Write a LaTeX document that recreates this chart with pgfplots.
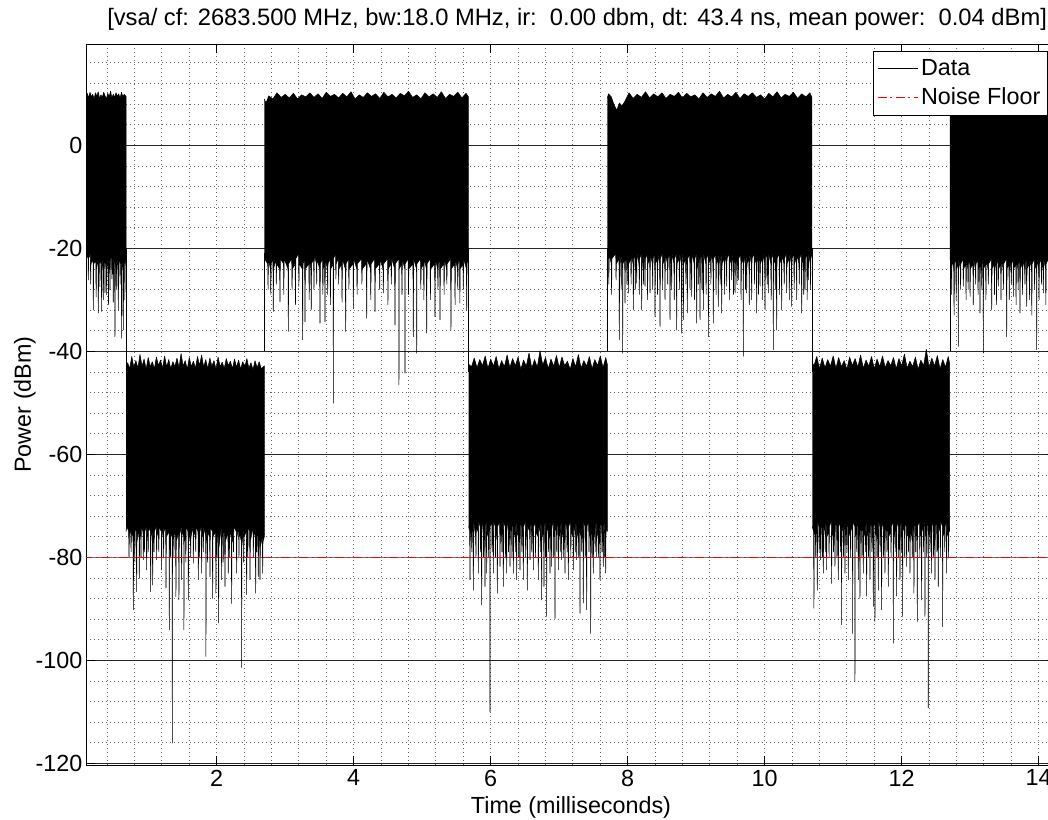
\documentclass[border=0pt]{standalone}
\usepackage{fontspec}
\setmainfont{Liberation Sans}
\usepackage{pgfplots}
\pgfplotsset{compat=1.18}
\definecolor{nfred}{RGB}{255,0,0}
\newcommand{\fs}{\fontsize{17.5}{21}\selectfont}
\begin{document}
\begin{tikzpicture}
\path[use as bounding box] (0pt,0pt) rectangle (786pt,614.25pt);
\begin{axis}[
  at={(64.5pt,40.5pt)}, anchor=south west,
  scale only axis, width=727.5pt, height=540.75pt,
  xmin=0.092, xmax=14.253, ymin=-120.33, ymax=19.67,
  axis on top=false,
  xtick={0,2,...,16}, ytick={-120,-100,-60,-40,-20,0,20},
  extra y ticks={-80}, extra y tick style={grid=none},
  minor xtick={0.4,0.8,...,14.4},
  minor ytick={-116,-112,-108,-104,-96,-92,-88,-84,-76,-72,-68,-64,-56,-52,-48,-44,-36,-32,-28,-24,-16,-12,-8,-4,4,8,12,16},
  xmajorgrids=false, xminorgrids, yminorgrids, ymajorgrids,
  major grid style={solid, black!85, line width=0.6pt},
  minor grid style={black!60, line width=0.6pt, dash pattern=on 0.75pt off 2.25pt},
  major tick length=7pt, minor tick length=0pt,
  tick align=inside,
  every tick/.append style={black, line width=0.6pt},
  axis line style={black, line width=0.6pt},
  /pgf/number format/assume math mode=true,
  tick label style={font=\fs},
  yticklabel style={inner xsep=2.5pt},
  xlabel={Time (milliseconds)}, ylabel={Power (dBm)},
  every axis x label/.style={at={(axis description cs:0.5,-0.0666)}, anchor=base, font=\fs},
  every axis y label/.style={at={(axis description cs:-0.0567,0.5)}, rotate=90, anchor=base, font=\fs},
  legend style={at={(0.811,0.9907)}, anchor=north west, line width=0.5pt, fill=white, font=\fs, legend cell align=left, row sep=3.5pt, inner xsep=3pt, inner ysep=4.5pt},
  legend image code/.code={\draw[#1] (0pt,0pt) -- (30pt,0pt);},
  clip=true,
]
% gray solid line and red noise floor, drawn first as separate plots
\addplot[draw=black!55, line width=0.8pt, mark=none, forget plot] coordinates {(0.05,-80) (14.4,-80)};
% High burst 1
\addplot[fill=black, draw=black, line width=0.4pt, line join=bevel, forget plot] coordinates {
(0.09,-22) (0.121,-21.5) (0.126,-26.2) (0.131,-22) (0.155,-21) (0.16,-27) (0.165,-23) (0.194,-22) (0.199,-32.0) (0.204,-23) (0.235,-22.5) (0.24,-29.5) (0.245,-24) (0.267,-22) (0.272,-32.6) (0.277,-23) (0.29,-21) (0.295,-27.5) (0.3,-22) (0.315,-23) (0.32,-32.3) (0.325,-24) (0.34,-22) (0.345,-30) (0.35,-23) (0.364,-21) (0.369,-28.7) (0.374,-22) (0.388,-23) (0.393,-29.1) (0.398,-24) (0.415,-21.5) (0.42,-31) (0.425,-22) (0.437,-23) (0.442,-28.1) (0.447,-22.5) (0.465,-21) (0.47,-26) (0.475,-22) (0.485,-23) (0.49,-30.5) (0.495,-22) (0.51,-23) (0.515,-37.2) (0.52,-24) (0.535,-22) (0.54,-28) (0.545,-23.5) (0.559,-22) (0.564,-32.0) (0.569,-23) (0.585,-21.5) (0.59,-27) (0.595,-22) (0.607,-23) (0.612,-37.5) (0.617,-24) (0.632,-22.5) (0.637,-35.9) (0.642,-23) (0.655,-22) (0.66,-30) (0.665,-23) (0.676,-22)
(0.676,9.5) (0.65,9.9) (0.63,9.4) (0.61,10.3) (0.59,9.1) (0.57,10.0) (0.55,9.5) (0.53,10.2) (0.51,9.3) (0.49,9.9) (0.47,9.2) (0.45,10.5) (0.43,9.4) (0.41,10.1) (0.39,9.0) (0.37,9.6) (0.35,10.3) (0.33,9.3) (0.31,9.8) (0.29,9.1) (0.27,10.4) (0.25,9.5) (0.23,10.2) (0.21,9.0) (0.19,9.9) (0.17,9.4) (0.15,10.3) (0.13,9.2) (0.11,10.1) (0.09,9.6)
};
% Low burst 1
\addplot[fill=black, draw=black, line width=0.4pt, line join=bevel, forget plot] coordinates {
(0.676,-75) (0.69,-74) (0.715,-75) (0.72,-80) (0.725,-76) (0.745,-74) (0.75,-79) (0.755,-75) (0.778,-76) (0.783,-90.2) (0.788,-77) (0.80,-75) (0.805,-81) (0.81,-74) (0.826,-75) (0.831,-86.7) (0.836,-77) (0.865,-74) (0.870,-84.1) (0.875,-76) (0.89,-75) (0.895,-80) (0.9,-74) (0.924,-75) (0.929,-80.5) (0.934,-76) (0.94,-74) (0.945,-79) (0.95,-75) (0.972,-74) (0.977,-82.5) (0.982,-76) (0.995,-75) (1.0,-79) (1.005,-74) (1.031,-75) (1.036,-86.7) (1.041,-76) (1.06,-75) (1.065,-85.4) (1.07,-77) (1.08,-74) (1.085,-79) (1.09,-75) (1.118,-74) (1.123,-80.5) (1.128,-75) (1.15,-76) (1.155,-79) (1.16,-74) (1.191,-75) (1.196,-82.5) (1.201,-76) (1.22,-74) (1.225,-80) (1.23,-75) (1.255,-74) (1.260,-86.0) (1.265,-76) (1.305,-75) (1.308,-94.1) (1.311,-77) (1.32,-76) (1.325,-80) (1.33,-75) (1.349,-76) (1.352,-116.1) (1.355,-77) (1.37,-74) (1.375,-80) (1.38,-75) (1.40,-76) (1.405,-87.7) (1.41,-77) (1.444,-75) (1.449,-88.3) (1.454,-76) (1.483,-74) (1.488,-84.4) (1.493,-75) (1.519,-76) (1.522,-94.1) (1.525,-77) (1.545,-76) (1.55,-81) (1.555,-74) (1.581,-75) (1.586,-88.3) (1.591,-77) (1.615,-75) (1.62,-80) (1.625,-76) (1.654,-74) (1.659,-81.2) (1.664,-75) (1.69,-76) (1.695,-79) (1.70,-74) (1.727,-75) (1.732,-84.4) (1.737,-77) (1.745,-74) (1.75,-80) (1.755,-75) (1.775,-74) (1.780,-83.1) (1.785,-76) (1.80,-75) (1.805,-79) (1.81,-74) (1.840,-76) (1.843,-99.3) (1.846,-77) (1.86,-74) (1.865,-81) (1.87,-75) (1.897,-76) (1.902,-83.8) (1.907,-74) (1.936,-75) (1.941,-88.0) (1.946,-76) (1.984,-75) (1.989,-87.0) (1.994,-77) (2.0,-74) (2.005,-80) (2.01,-75) (2.023,-76) (2.028,-92.8) (2.033,-78) (2.067,-74) (2.072,-84.4) (2.077,-76) (2.09,-75) (2.095,-81) (2.10,-74) (2.116,-76) (2.121,-85.7) (2.126,-77) (2.164,-75) (2.169,-83.1) (2.174,-76) (2.18,-74) (2.185,-80) (2.19,-75) (2.213,-76) (2.218,-89.0) (2.223,-77) (2.24,-76) (2.245,-79) (2.25,-74) (2.286,-75) (2.291,-83.1) (2.296,-76) (2.32,-74) (2.325,-80) (2.33,-75) (2.361,-77) (2.364,-101.4) (2.367,-78) (2.39,-74) (2.395,-81) (2.40,-76) (2.432,-75) (2.437,-87.3) (2.442,-77) (2.45,-76) (2.455,-80) (2.46,-74) (2.481,-75) (2.486,-84.4) (2.491,-77) (2.53,-74) (2.535,-80) (2.54,-75) (2.564,-76) (2.569,-87.0) (2.574,-77) (2.58,-75) (2.585,-79) (2.590,-74) (2.602,-76) (2.607,-83.8) (2.612,-77) (2.627,-75) (2.632,-84.4) (2.637,-78) (2.666,-76) (2.671,-83.1) (2.676,-77) (2.695,-76)
(2.695,-42.8) (2.65,-43.4) (2.62,-42.0) (2.59,-43.2) (2.56,-41.8) (2.53,-43.6) (2.50,-42.2) (2.47,-43.3) (2.44,-41.4) (2.41,-43.0) (2.38,-42.0) (2.35,-43.5) (2.32,-41.7) (2.29,-43.1) (2.26,-41.5) (2.23,-43.4) (2.20,-41.9) (2.17,-42.8) (2.14,-41.4) (2.11,-43.3) (2.08,-42.1) (2.05,-43.0) (2.02,-41.1) (1.99,-43.5) (1.96,-41.8) (1.93,-42.9) (1.90,-41.3) (1.87,-43.4) (1.84,-41.6) (1.81,-43.1) (1.78,-40.7) (1.75,-42.8) (1.72,-41.0) (1.69,-43.3) (1.66,-41.9) (1.63,-43.0) (1.60,-41.2) (1.57,-43.5) (1.54,-41.8) (1.51,-42.9) (1.48,-40.4) (1.45,-43.2) (1.42,-41.3) (1.39,-43.0) (1.36,-42.0) (1.33,-43.4) (1.30,-41.6) (1.27,-43.1) (1.24,-40.9) (1.21,-43.3) (1.18,-41.7) (1.15,-42.8) (1.12,-41.1) (1.09,-43.4) (1.06,-42.0) (1.03,-43.0) (1.00,-41.2) (0.97,-43.5) (0.94,-41.5) (0.91,-42.9) (0.88,-40.6) (0.85,-43.3) (0.82,-41.8) (0.79,-43.1) (0.76,-41.0) (0.73,-43.4) (0.70,-42.2) (0.676,-43)
};
% High burst 2
\addplot[fill=black, draw=black, line width=0.4pt, line join=bevel, forget plot] coordinates {
(2.695,-22) (2.745,-23) (2.75,-28) (2.755,-22) (2.785,-24) (2.79,-29) (2.795,-23) (2.821,-22) (2.826,-32.3) (2.831,-24) (2.865,-22) (2.87,-27) (2.875,-23) (2.919,-24) (2.924,-30.4) (2.929,-22) (2.975,-23) (2.98,-29) (2.985,-22) (3.041,-24) (3.046,-36.2) (3.051,-23) (3.095,-22) (3.1,-28) (3.105,-24) (3.145,-23) (3.15,-31) (3.155,-22) (3.195,-21) (3.2,-27.5) (3.205,-23) (3.25,-24) (3.255,-37.8) (3.26,-23) (3.284,-22) (3.289,-34.3) (3.294,-24) (3.345,-23) (3.35,-30) (3.355,-22) (3.375,-24) (3.38,-32) (3.385,-23) (3.415,-22) (3.42,-28) (3.425,-21) (3.455,-23) (3.46,-27) (3.465,-22) (3.503,-24) (3.508,-34.6) (3.513,-23) (3.545,-22) (3.55,-29) (3.555,-24) (3.576,-23) (3.581,-34.3) (3.586,-22) (3.615,-24) (3.62,-29) (3.625,-23) (3.655,-22) (3.66,-31) (3.665,-24) (3.70,-23) (3.703,-50.1) (3.706,-22) (3.735,-21) (3.74,-26) (3.745,-23) (3.775,-22) (3.78,-27) (3.785,-24) (3.825,-23) (3.83,-30.5) (3.835,-22) (3.878,-24) (3.883,-36.2) (3.888,-23) (3.925,-22) (3.93,-28) (3.935,-24) (3.99,-23) (3.995,-31.7) (4.0,-22) (4.045,-24) (4.05,-29) (4.055,-23) (4.115,-22) (4.12,-27) (4.125,-24) (4.185,-23) (4.19,-33.6) (4.195,-22) (4.245,-24) (4.25,-30) (4.255,-23) (4.306,-22) (4.311,-32.3) (4.316,-24) (4.375,-23) (4.38,-28) (4.385,-22) (4.428,-24) (4.433,-28.7) (4.438,-23) (4.495,-22) (4.5,-31) (4.505,-24) (4.545,-23) (4.55,-27) (4.555,-22) (4.598,-24) (4.603,-34.9) (4.608,-23) (4.658,-22) (4.661,-46.5) (4.664,-24) (4.70,-23) (4.705,-29) (4.71,-22) (4.746,-24) (4.749,-44.3) (4.752,-23) (4.795,-22) (4.8,-29) (4.805,-24) (4.865,-23) (4.87,-37.2) (4.875,-22) (4.917,-24) (4.92,-40.4) (4.923,-23) (4.975,-22) (4.98,-28) (4.985,-24) (5.02,-23) (5.025,-30) (5.03,-22) (5.061,-24) (5.066,-36.5) (5.071,-23) (5.115,-22) (5.12,-30) (5.125,-24) (5.182,-23) (5.187,-33.3) (5.192,-22) (5.225,-24) (5.23,-28) (5.235,-23) (5.255,-22) (5.26,-33.9) (5.265,-24) (5.315,-23) (5.32,-29) (5.325,-22) (5.355,-24) (5.36,-27) (5.365,-23) (5.415,-22) (5.42,-35.9) (5.425,-24) (5.475,-23) (5.48,-31) (5.485,-22) (5.515,-24) (5.52,-28) (5.525,-23) (5.545,-22) (5.55,-30.7) (5.555,-24) (5.595,-23) (5.6,-28) (5.605,-22) (5.645,-24) (5.65,-32.0) (5.655,-23) (5.675,-22)
(5.675,9.4) (5.64,10.1) (5.58,9.2) (5.52,10.3) (5.46,9.5) (5.40,9.9) (5.34,9.1) (5.28,10.4) (5.22,9.3) (5.16,10.0) (5.10,9.4) (5.04,10.2) (4.98,9.0) (4.92,9.8) (4.86,9.3) (4.80,10.5) (4.74,9.6) (4.68,10.1) (4.62,9.2) (4.56,9.9) (4.50,9.4) (4.44,10.3) (4.38,9.1) (4.32,10.0) (4.26,9.5) (4.20,10.2) (4.14,9.3) (4.08,9.8) (4.02,9.0) (3.96,10.4) (3.90,9.4) (3.84,10.1) (3.78,9.2) (3.72,9.9) (3.66,9.5) (3.60,10.3) (3.54,9.1) (3.48,10.0) (3.42,9.3) (3.36,10.2) (3.30,9.4) (3.24,9.8) (3.18,9.0) (3.12,10.1) (3.06,9.2) (3.00,9.9) (2.94,9.3) (2.88,10.2) (2.82,9.0) (2.76,9.6) (2.72,8.2) (2.695,9.0)
};
% Low burst 2
\addplot[fill=black, draw=black, line width=0.4pt, line join=bevel, forget plot] coordinates {
(5.678,-74) (5.693,-75) (5.698,-84.4) (5.703,-73) (5.72,-76) (5.725,-79) (5.73,-74) (5.742,-75) (5.747,-86.4) (5.752,-73) (5.78,-76) (5.785,-80) (5.79,-74) (5.815,-75) (5.82,-83.1) (5.825,-73) (5.845,-74) (5.85,-79) (5.855,-76) (5.863,-75) (5.868,-89.3) (5.873,-74) (5.89,-73) (5.895,-80) (5.9,-75) (5.912,-76) (5.917,-85.7) (5.922,-74) (5.936,-73) (5.941,-83.1) (5.946,-75) (5.965,-76) (5.97,-80) (5.975,-74) (5.987,-75) (5.99,-110.0) (5.993,-74) (6.015,-73) (6.02,-79) (6.025,-76) (6.034,-75) (6.039,-83.1) (6.044,-73) (6.065,-74) (6.07,-80) (6.075,-75) (6.092,-76) (6.097,-87.0) (6.102,-74) (6.131,-73) (6.136,-81.8) (6.141,-75) (6.16,-76) (6.165,-79) (6.17,-74) (6.18,-75) (6.185,-85.7) (6.19,-73) (6.21,-74) (6.215,-80) (6.22,-76) (6.228,-75) (6.233,-83.1) (6.238,-74) (6.255,-73) (6.26,-79) (6.265,-75) (6.277,-76) (6.282,-81.8) (6.287,-74) (6.305,-75) (6.31,-80) (6.315,-73) (6.326,-74) (6.331,-83.1) (6.336,-76) (6.355,-75) (6.36,-79) (6.365,-74) (6.374,-73) (6.379,-84.4) (6.384,-75) (6.405,-76) (6.41,-80) (6.415,-74) (6.423,-75) (6.428,-82.5) (6.433,-73) (6.45,-74) (6.455,-79) (6.46,-76) (6.472,-75) (6.477,-84.4) (6.482,-74) (6.505,-73) (6.51,-80) (6.515,-75) (6.53,-76) (6.535,-86.4) (6.54,-74) (6.569,-75) (6.574,-80.5) (6.579,-73) (6.595,-74) (6.6,-79) (6.605,-76) (6.618,-75) (6.623,-82.5) (6.628,-74) (6.65,-73) (6.655,-80) (6.66,-75) (6.691,-76) (6.696,-84.4) (6.701,-74) (6.72,-75) (6.725,-79) (6.73,-73) (6.739,-74) (6.744,-88.3) (6.749,-76) (6.773,-75) (6.778,-85.7) (6.783,-74) (6.797,-73) (6.8,-80) (6.803,-75) (6.814,-76) (6.817,-91.5) (6.82,-74) (6.84,-75) (6.845,-79) (6.85,-73) (6.861,-74) (6.866,-83.1) (6.871,-76) (6.885,-75) (6.89,-81.8) (6.895,-74) (6.915,-73) (6.92,-80) (6.925,-75) (6.936,-76) (6.939,-91.9) (6.942,-74) (6.96,-75) (6.965,-79) (6.97,-73) (6.983,-74) (6.988,-82.5) (6.993,-76) (7.01,-75) (7.015,-79) (7.02,-74) (7.031,-73) (7.036,-80.5) (7.041,-75) (7.06,-76) (7.065,-80) (7.07,-74) (7.08,-75) (7.085,-83.1) (7.09,-73) (7.11,-74) (7.115,-79) (7.12,-76) (7.129,-75) (7.134,-84.4) (7.139,-74) (7.165,-73) (7.17,-80) (7.175,-75) (7.202,-76) (7.207,-82.5) (7.212,-74) (7.23,-75) (7.235,-79) (7.24,-73) (7.25,-74) (7.255,-80.5) (7.26,-76) (7.28,-75) (7.285,-80) (7.29,-74) (7.301,-73) (7.304,-90.9) (7.307,-75) (7.325,-76) (7.33,-79) (7.335,-74) (7.347,-75) (7.352,-88.9) (7.357,-73) (7.375,-74) (7.38,-80) (7.385,-76) (7.396,-75) (7.401,-90.2) (7.406,-74) (7.43,-73) (7.435,-79) (7.44,-75) (7.457,-76) (7.46,-94.8) (7.463,-74) (7.475,-75) (7.48,-80) (7.485,-73) (7.493,-74) (7.498,-83.1) (7.503,-76) (7.52,-75) (7.525,-79) (7.53,-74) (7.542,-73) (7.547,-79.9) (7.552,-75) (7.57,-76) (7.575,-80) (7.58,-74) (7.591,-75) (7.596,-84.4) (7.601,-73) (7.62,-74) (7.625,-79) (7.63,-76) (7.639,-75) (7.644,-81.8) (7.649,-74) (7.66,-73) (7.665,-80) (7.67,-75) (7.674,-76) (7.679,-83.1) (7.684,-74) (7.703,-75)
(7.703,-42.6) (7.68,-41.2) (7.64,-43.2) (7.60,-40.9) (7.56,-42.8) (7.52,-41.6) (7.48,-43.4) (7.44,-41.0) (7.40,-42.9) (7.36,-41.8) (7.32,-43.3) (7.28,-40.6) (7.24,-43.0) (7.20,-41.4) (7.16,-43.5) (7.12,-41.9) (7.08,-42.8) (7.04,-41.1) (7.00,-43.2) (6.96,-40.8) (6.92,-42.9) (6.88,-41.5) (6.84,-43.4) (6.80,-41.2) (6.76,-42.7) (6.72,-39.9) (6.68,-43.1) (6.64,-41.6) (6.60,-43.3) (6.56,-40.3) (6.52,-42.9) (6.48,-41.7) (6.44,-43.5) (6.40,-41.1) (6.36,-42.8) (6.32,-41.4) (6.28,-43.2) (6.24,-40.7) (6.20,-43.0) (6.16,-41.8) (6.12,-43.4) (6.08,-41.0) (6.04,-42.9) (6.00,-41.5) (5.96,-43.3) (5.92,-40.9) (5.88,-42.8) (5.84,-41.6) (5.80,-43.2) (5.76,-41.3) (5.72,-43.0) (5.678,-42.5)
};
% High burst 3
\addplot[fill=black, draw=black, line width=0.4pt, line join=bevel, forget plot] coordinates {
(7.703,-21) (7.72,-22) (7.725,-27) (7.73,-21) (7.76,-23) (7.765,-29) (7.77,-22) (7.825,-21) (7.83,-26.2) (7.835,-23) (7.873,-22) (7.878,-37.8) (7.883,-21) (7.90,-23) (7.905,-28) (7.91,-22) (7.924,-21) (7.927,-40.4) (7.93,-23) (7.956,-22) (7.961,-30.7) (7.966,-21) (7.985,-23) (7.99,-27) (7.995,-22) (8.005,-21) (8.01,-28.7) (8.015,-23) (8.045,-22) (8.05,-27) (8.055,-21) (8.078,-23) (8.083,-32.0) (8.088,-22) (8.105,-21) (8.11,-28) (8.115,-23) (8.126,-22) (8.131,-26.8) (8.136,-21) (8.165,-23) (8.17,-29) (8.175,-22) (8.199,-21) (8.204,-32.0) (8.209,-23) (8.225,-22) (8.23,-27) (8.235,-21) (8.248,-23) (8.253,-27.4) (8.258,-22) (8.285,-21) (8.29,-30) (8.295,-23) (8.321,-22) (8.326,-28.7) (8.331,-21) (8.36,-23) (8.365,-28) (8.37,-22) (8.394,-21) (8.399,-33.3) (8.404,-23) (8.43,-22) (8.435,-29) (8.44,-21) (8.467,-23) (8.472,-35.2) (8.477,-22) (8.505,-21) (8.51,-28) (8.515,-23) (8.54,-22) (8.545,-30.0) (8.55,-21) (8.58,-23) (8.585,-27) (8.59,-22) (8.613,-21) (8.618,-33.9) (8.623,-23) (8.637,-22) (8.642,-28.1) (8.647,-21) (8.675,-23) (8.68,-30) (8.685,-22) (8.71,-21) (8.715,-35.9) (8.72,-23) (8.75,-22) (8.755,-28) (8.76,-21) (8.783,-23) (8.788,-36.5) (8.793,-22) (8.808,-21) (8.813,-33.9) (8.818,-23) (8.845,-22) (8.85,-27) (8.855,-21) (8.866,-23) (8.871,-32.6) (8.876,-22) (8.905,-21) (8.91,-28) (8.915,-23) (8.929,-22) (8.934,-29.4) (8.939,-21) (8.97,-23) (8.975,-30) (8.98,-22) (9.002,-21) (9.007,-34.6) (9.012,-23) (9.025,-22) (9.03,-27) (9.035,-21) (9.051,-23) (9.056,-33.9) (9.061,-22) (9.08,-21) (9.085,-28) (9.09,-23) (9.1,-22) (9.105,-32.0) (9.11,-21) (9.14,-23) (9.145,-29) (9.15,-22) (9.173,-21) (9.178,-37.2) (9.183,-23) (9.21,-22) (9.215,-27) (9.22,-21) (9.245,-23) (9.25,-34.6) (9.255,-22) (9.285,-21) (9.29,-29) (9.295,-23) (9.318,-22) (9.323,-31.3) (9.328,-21) (9.345,-23) (9.35,-27) (9.355,-22) (9.367,-21) (9.372,-32.6) (9.377,-23) (9.41,-22) (9.415,-29) (9.42,-21) (9.44,-23) (9.445,-27.4) (9.45,-22) (9.48,-21) (9.485,-30) (9.49,-23) (9.513,-22) (9.518,-26.2) (9.523,-21) (9.54,-23) (9.545,-29) (9.55,-22) (9.562,-21) (9.567,-28.7) (9.572,-23) (9.59,-22) (9.595,-27) (9.6,-21) (9.61,-23) (9.615,-26.2) (9.62,-22) (9.65,-21) (9.655,-30) (9.66,-23) (9.685,-22) (9.688,-41.0) (9.691,-21) (9.715,-23) (9.72,-28) (9.725,-22) (9.732,-21) (9.737,-28.7) (9.742,-23) (9.77,-22) (9.775,-31) (9.78,-21) (9.805,-23) (9.81,-30.0) (9.815,-22) (9.845,-21) (9.85,-27) (9.855,-23) (9.878,-22) (9.883,-32.6) (9.888,-21) (9.905,-23) (9.91,-29) (9.915,-22) (9.927,-21) (9.932,-27.4) (9.937,-23) (9.965,-22) (9.97,-30) (9.975,-21) (10.0,-23) (10.005,-32.0) (10.01,-22) (10.03,-21) (10.035,-27) (10.04,-23) (10.048,-22) (10.053,-28.7) (10.058,-21) (10.09,-23) (10.095,-30) (10.1,-22) (10.123,-21) (10.126,-39.7) (10.129,-23) (10.15,-22) (10.155,-28) (10.16,-21) (10.17,-23) (10.175,-35.9) (10.18,-22) (10.21,-21) (10.215,-29) (10.22,-23) (10.243,-22) (10.248,-32.0) (10.253,-21) (10.28,-23) (10.285,-27) (10.29,-22) (10.316,-21) (10.321,-28.7) (10.326,-23) (10.355,-22) (10.36,-30) (10.365,-21) (10.389,-23) (10.394,-31.3) (10.399,-22) (10.425,-21) (10.43,-28) (10.435,-23) (10.462,-22) (10.467,-30.0) (10.472,-21) (10.5,-23) (10.505,-27) (10.51,-22) (10.535,-21) (10.54,-32.6) (10.545,-23) (10.565,-22) (10.57,-29) (10.575,-21) (10.584,-23) (10.589,-28.1) (10.594,-22) (10.615,-21) (10.62,-30) (10.625,-23) (10.632,-22) (10.637,-26.2) (10.642,-21) (10.665,-23) (10.67,-28) (10.675,-22) (10.69,-21)
(10.69,9.3) (10.66,10.2) (10.60,9.4) (10.54,10.0) (10.48,9.1) (10.42,10.3) (10.36,9.5) (10.30,9.9) (10.24,9.2) (10.18,10.4) (10.12,9.4) (10.06,10.1) (10.00,9.0) (9.94,9.8) (9.88,9.3) (9.82,10.2) (9.76,9.5) (9.70,10.0) (9.64,9.1) (9.58,10.3) (9.52,9.4) (9.46,9.9) (9.40,9.2) (9.34,10.5) (9.28,9.5) (9.22,10.0) (9.16,9.3) (9.10,10.2) (9.04,9.0) (8.98,9.8) (8.92,9.4) (8.86,10.1) (8.80,9.2) (8.74,10.3) (8.68,9.5) (8.62,9.9) (8.56,9.1) (8.50,10.2) (8.44,9.4) (8.38,10.0) (8.32,9.2) (8.26,10.4) (8.20,9.3) (8.14,9.9) (8.08,9.1) (8.02,10.2) (7.96,8.6) (7.92,7.6) (7.88,8.2) (7.84,6.8) (7.80,7.9) (7.76,9.4) (7.72,10.0) (7.703,9.2)
};
% Low burst 3
\addplot[fill=black, draw=black, line width=0.4pt, line join=bevel, forget plot] coordinates {
(10.695,-74) (10.714,-75) (10.719,-89.9) (10.724,-73) (10.74,-76) (10.745,-80) (10.75,-74) (10.763,-75) (10.768,-86.4) (10.773,-73) (10.79,-74) (10.795,-79) (10.8,-76) (10.812,-75) (10.817,-80.5) (10.822,-74) (10.835,-73) (10.84,-80) (10.845,-75) (10.851,-76) (10.856,-83.1) (10.861,-74) (10.88,-75) (10.885,-79) (10.89,-73) (10.899,-74) (10.904,-82.5) (10.909,-76) (10.935,-75) (10.94,-80) (10.945,-74) (10.972,-73) (10.977,-85.1) (10.982,-75) (11.0,-76) (11.005,-79) (11.01,-74) (11.021,-75) (11.026,-81.8) (11.031,-73) (11.05,-74) (11.055,-80) (11.06,-76) (11.07,-75) (11.075,-84.4) (11.08,-74) (11.1,-73) (11.105,-79) (11.11,-75) (11.12,-76) (11.123,-93.1) (11.126,-74) (11.145,-75) (11.15,-80) (11.155,-73) (11.167,-74) (11.172,-83.1) (11.177,-76) (11.195,-75) (11.2,-79) (11.205,-74) (11.216,-73) (11.221,-84.4) (11.226,-75) (11.25,-76) (11.255,-80) (11.26,-74) (11.281,-75) (11.284,-94.8) (11.287,-73) (11.315,-74) (11.318,-104.2) (11.321,-76) (11.34,-75) (11.345,-79) (11.35,-74) (11.362,-73) (11.367,-84.4) (11.372,-75) (11.386,-76) (11.391,-88.0) (11.396,-74) (11.415,-75) (11.42,-80) (11.425,-73) (11.435,-74) (11.44,-83.1) (11.445,-76) (11.465,-75) (11.47,-79) (11.475,-74) (11.483,-73) (11.488,-87.6) (11.493,-75) (11.51,-76) (11.515,-80) (11.52,-74) (11.532,-75) (11.537,-84.4) (11.542,-73) (11.56,-74) (11.565,-79) (11.57,-76) (11.581,-75) (11.586,-89.6) (11.591,-74) (11.607,-73) (11.61,-92.5) (11.613,-75) (11.635,-76) (11.64,-80) (11.645,-74) (11.654,-75) (11.659,-86.4) (11.664,-73) (11.68,-74) (11.685,-79) (11.69,-76) (11.702,-75) (11.707,-90.2) (11.712,-74) (11.73,-73) (11.735,-80) (11.74,-75) (11.751,-76) (11.756,-83.1) (11.761,-74) (11.78,-75) (11.785,-79) (11.79,-73) (11.8,-74) (11.805,-85.7) (11.81,-76) (11.84,-75) (11.845,-80) (11.85,-74) (11.875,-73) (11.878,-96.7) (11.881,-75) (11.9,-76) (11.905,-79) (11.91,-74) (11.921,-75) (11.926,-87.6) (11.931,-73) (11.95,-74) (11.955,-80) (11.96,-76) (11.97,-75) (11.975,-84.4) (11.98,-74) (11.995,-73) (12.0,-79) (12.005,-75) (12.011,-76) (12.014,-91.5) (12.017,-74) (12.04,-75) (12.045,-80) (12.05,-73) (12.067,-74) (12.072,-81.8) (12.077,-76) (12.095,-75) (12.1,-79) (12.105,-74) (12.116,-73) (12.121,-83.1) (12.126,-75) (12.15,-76) (12.155,-80) (12.16,-74) (12.174,-75) (12.179,-87.0) (12.184,-73) (12.2,-74) (12.205,-79) (12.21,-76) (12.225,-75) (12.228,-92.5) (12.231,-74) (12.26,-73) (12.265,-80) (12.27,-75) (12.286,-76) (12.291,-88.3) (12.296,-74) (12.315,-75) (12.32,-79) (12.325,-73) (12.337,-74) (12.34,-91.5) (12.343,-76) (12.36,-75) (12.365,-80) (12.37,-74) (12.385,-73) (12.388,-109.3) (12.391,-75) (12.41,-76) (12.415,-79) (12.42,-74) (12.432,-75) (12.437,-83.1) (12.442,-73) (12.46,-74) (12.465,-80) (12.47,-76) (12.481,-75) (12.486,-84.4) (12.491,-74) (12.51,-73) (12.515,-79) (12.52,-75) (12.529,-76) (12.534,-85.7) (12.539,-74) (12.56,-75) (12.565,-80) (12.57,-73) (12.595,-74) (12.598,-93.5) (12.601,-76) (12.625,-75) (12.63,-79) (12.635,-74) (12.651,-73) (12.656,-83.1) (12.661,-75) (12.68,-76) (12.685,-80) (12.69,-74) (12.70,-75)
(12.70,-42.4) (12.68,-41.0) (12.64,-43.1) (12.60,-41.6) (12.56,-43.4) (12.52,-40.8) (12.48,-42.9) (12.44,-41.3) (12.40,-43.2) (12.36,-39.6) (12.32,-42.8) (12.28,-41.7) (12.24,-43.5) (12.20,-41.1) (12.16,-43.0) (12.12,-41.9) (12.08,-43.3) (12.04,-40.5) (12.00,-42.9) (11.96,-41.4) (11.92,-43.4) (11.88,-41.2) (11.84,-42.8) (11.80,-41.8) (11.76,-43.2) (11.72,-40.9) (11.68,-43.0) (11.64,-41.5) (11.60,-43.4) (11.56,-41.0) (11.52,-42.9) (11.48,-41.7) (11.44,-43.3) (11.40,-40.7) (11.36,-43.1) (11.32,-41.4) (11.28,-42.8) (11.24,-41.1) (11.20,-43.5) (11.16,-41.8) (11.12,-43.0) (11.08,-41.2) (11.04,-43.3) (11.00,-40.9) (10.96,-42.9) (10.92,-41.6) (10.88,-43.2) (10.84,-41.3) (10.80,-43.4) (10.76,-41.0) (10.72,-42.8) (10.695,-42.3)
};
% High burst 4
\addplot[fill=black, draw=black, line width=0.4pt, line join=bevel, forget plot] coordinates {
(12.705,-22) (12.725,-23) (12.73,-29) (12.735,-22) (12.76,-24) (12.765,-33) (12.77,-23) (12.79,-22) (12.795,-30) (12.8,-24) (12.824,-23) (12.827,-39.1) (12.83,-22) (12.855,-24) (12.86,-28) (12.865,-23) (12.895,-22) (12.9,-27.4) (12.905,-24) (12.935,-23) (12.94,-30) (12.945,-22) (12.965,-24) (12.97,-28) (12.975,-23) (12.993,-22) (12.998,-29.4) (13.003,-24) (13.04,-23) (13.045,-31) (13.05,-22) (13.075,-24) (13.08,-27) (13.085,-23) (13.11,-22) (13.115,-29) (13.12,-24) (13.138,-23) (13.143,-32.6) (13.148,-22) (13.165,-24) (13.17,-28) (13.175,-23) (13.189,-22) (13.192,-40.4) (13.195,-24) (13.225,-23) (13.23,-30) (13.235,-22) (13.26,-24) (13.265,-27) (13.27,-23) (13.309,-22) (13.314,-32.0) (13.319,-24) (13.35,-23) (13.355,-29) (13.36,-22) (13.38,-24) (13.385,-31) (13.39,-23) (13.406,-22) (13.411,-27.4) (13.416,-24) (13.445,-23) (13.45,-30) (13.455,-22) (13.48,-24) (13.485,-28) (13.49,-23) (13.528,-22) (13.533,-37.2) (13.538,-24) (13.565,-23) (13.57,-30) (13.575,-22) (13.595,-24) (13.6,-27) (13.605,-23) (13.625,-22) (13.63,-29.4) (13.635,-24) (13.665,-23) (13.67,-31) (13.675,-22) (13.695,-24) (13.7,-28) (13.705,-23) (13.722,-22) (13.727,-32.6) (13.732,-24) (13.76,-23) (13.765,-29) (13.77,-22) (13.795,-24) (13.8,-27) (13.805,-23) (13.82,-22) (13.825,-31.3) (13.83,-24) (13.86,-23) (13.865,-30) (13.87,-22) (13.895,-24) (13.9,-33) (13.905,-23) (13.935,-22) (13.94,-28) (13.945,-24) (13.968,-23) (13.971,-39.7) (13.974,-22) (14.0,-24) (14.005,-30) (14.01,-23) (14.035,-22) (14.04,-27) (14.045,-24) (14.063,-23) (14.068,-28.7) (14.073,-22) (14.1,-24) (14.105,-31) (14.11,-23) (14.14,-22) (14.145,-29) (14.15,-24) (14.18,-23) (14.185,-30) (14.19,-22) (14.3,-23)
(14.3,9.5) (14.26,10.1) (14.20,9.3) (14.14,10.2) (14.08,9.4) (14.02,9.9) (13.96,9.1) (13.90,10.3) (13.84,9.5) (13.78,10.0) (13.72,9.2) (13.66,10.4) (13.60,9.4) (13.54,9.8) (13.48,9.0) (13.42,10.2) (13.36,9.3) (13.30,10.1) (13.24,9.5) (13.18,9.9) (13.12,9.2) (13.06,10.3) (13.00,9.4) (12.94,10.0) (12.88,9.1) (12.82,9.7) (12.76,9.3) (12.705,9.8)
};
% transitions
\addplot[draw=black, line width=0.5pt, forget plot] coordinates {(0.676,-20) (0.676,-44)};
\addplot[draw=black, line width=0.5pt, forget plot] coordinates {(2.695,-40) (2.695,-21)};
\addplot[draw=black, line width=0.5pt, forget plot] coordinates {(5.677,-20) (5.677,-44)};
\addplot[draw=black, line width=0.5pt, forget plot] coordinates {(7.703,-40) (7.703,-20)};
\addplot[draw=black, line width=0.5pt, forget plot] coordinates {(10.692,-20) (10.692,-44)};
\addplot[draw=black, line width=0.5pt, forget plot] coordinates {(12.703,-40) (12.703,-21)};
% noise floor, red dash-dot, on top of the data
\addplot[draw=nfred, line width=1.2pt, mark=none, dash pattern=on 7pt off 2.5pt on 1.5pt off 2.5pt, forget plot] coordinates {(0.05,-80) (14.4,-80)};
\addlegendimage{draw=black, line width=0.6pt}
\addlegendentry{Data}
\addlegendimage{draw=nfred, line width=1pt, dash pattern=on 7pt off 2.5pt on 1.5pt off 2.5pt}
\addlegendentry{Noise Floor}
\end{axis}
\node[anchor=base west, inner sep=0pt, font=\fontsize{17.8}{21}\selectfont] at (80.25pt,595pt) {[vsa/ cf: 2683.500 MHz, bw:18.0 MHz, ir:\ \ 0.00 dbm, dt: 43.4 ns, mean power:\ \ 0.04 dBm]};
\end{tikzpicture}
\end{document}
